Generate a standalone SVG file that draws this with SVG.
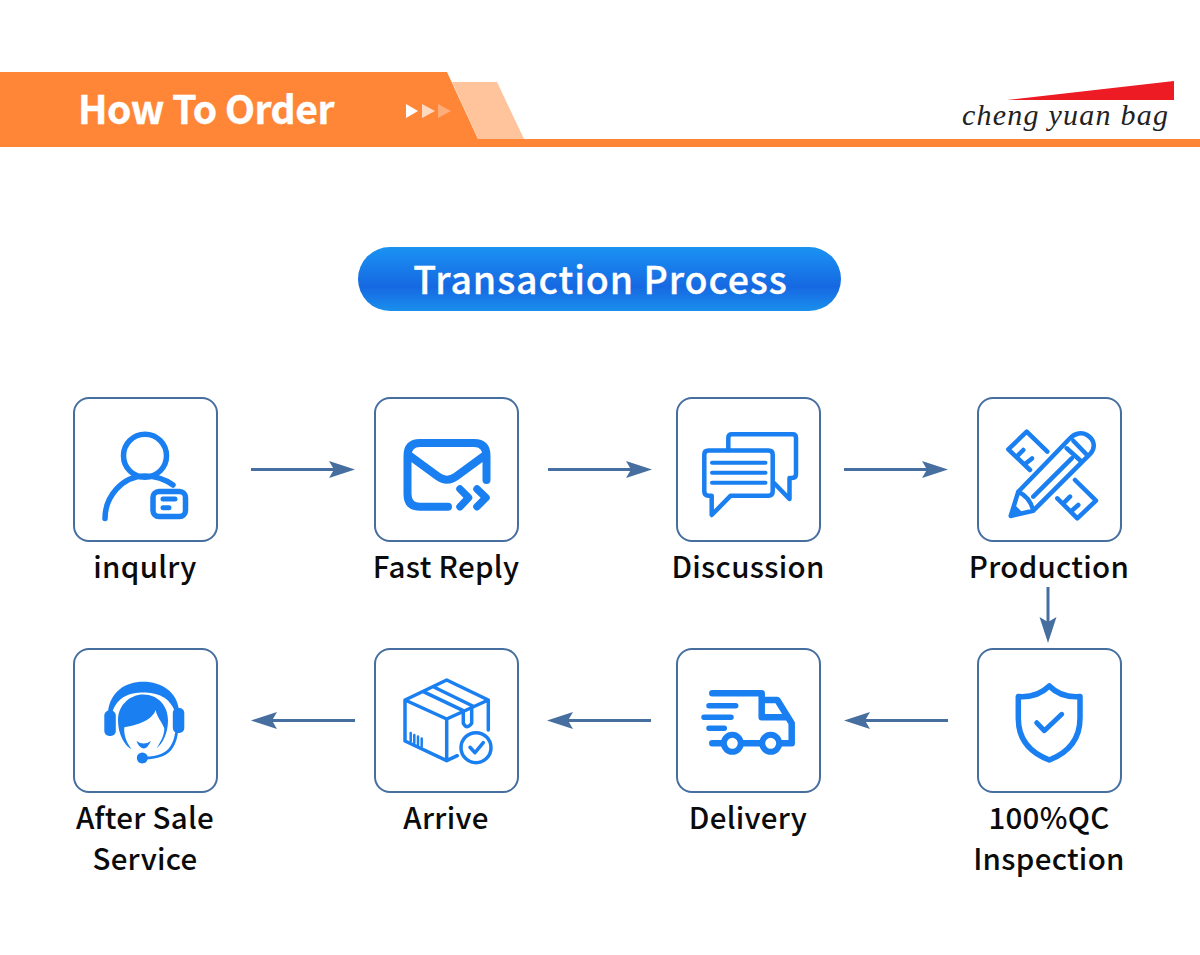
<svg xmlns="http://www.w3.org/2000/svg" width="1200" height="955" viewBox="0 0 1200 955">
<style>
.card{fill:#fff;stroke:#466FA0;stroke-width:2}
.ln{fill:none;stroke:#1A7FF0;stroke-linecap:round;stroke-linejoin:round}
.fl{fill:#1A7FF0}
.lab{font-family:"Noto Sans CJK SC","Noto Sans",sans-serif;font-weight:500;font-size:29.500px;letter-spacing:.3px;fill:#0b0b0b;text-anchor:middle}
.arw{stroke:#466FA0;stroke-width:3;fill:none;marker-end:url(#head)}
</style>
<defs>
<linearGradient id="pill" x1="0" y1="0" x2="0" y2="1">
<stop offset="0" stop-color="#1A93F2"/><stop offset=".62" stop-color="#1668E2"/><stop offset="1" stop-color="#1A8FEC"/>
</linearGradient>
<marker id="head" markerUnits="userSpaceOnUse" markerWidth="26" markerHeight="18" viewBox="0 0 26 18" refX="5" refY="9" orient="auto">
<path d="M0 .5L26 9L0 17.5L5 9Z" fill="#466FA0"/>
</marker>
<rect id="box" width="143" height="143" rx="15" class="card"/>
</defs>
<rect width="1200" height="955" fill="#fff"/>

<!-- header band -->
<g id="header">
<path d="M0 72H447L478 139H1200V147H0Z" fill="#FF8636"/>
<path d="M452 82H497L524 139H478Z" fill="#FFC49C"/>
<path d="M406 104L418 111L406 118Z" fill="#fff"/>
<path d="M422 104L435 111L422 118Z" fill="#FFD9BF"/>
<path d="M438 104L451 111L438 118Z" fill="#FFAD78"/>
<text x="78" y="123.500" font-family="'Noto Sans CJK SC','Noto Sans',sans-serif" font-weight="700" font-size="39" letter-spacing="-.5" fill="#fff" stroke="#fff" stroke-width=".4">How To Order</text>
</g>
<g id="logo">
<path d="M1007 100L1174 81V100Z" fill="#ED1C24"/>
<text x="962" y="125" font-family="'Liberation Serif',serif" font-style="italic" font-size="30" fill="#222" textLength="206" lengthAdjust="spacing">cheng yuan bag</text>
</g>

<g id="title">
<rect x="358" y="247" width="483" height="64" rx="32" fill="url(#pill)"/>
<text x="600.500" y="293.500" text-anchor="middle" font-family="'Noto Sans CJK SC','Noto Sans',sans-serif" font-weight="500" font-size="37.500" letter-spacing=".9" fill="#fff" stroke="#fff" stroke-width=".3">Transaction Process</text>
</g>

<g id="connectors">
<path class="arw" d="M251 469.500H334"/>
<path class="arw" d="M548 469.500H631"/>
<path class="arw" d="M844 469.500H927"/>
<path class="arw" d="M1048 587V622"/>
<path class="arw" d="M948 720.500H865"/>
<path class="arw" d="M651 720.500H568"/>
<path class="arw" d="M355 720.500H272"/>
</g>

<g id="inquiry">
<use href="#box" x="74" y="398"/>
<circle cx="145" cy="455.700" r="21.500" class="ln" stroke-width="5.500"/>
<path class="ln" stroke-width="5.500" stroke-linecap="butt" d="M105 518.500C105 497 122 476 145 476C156 476 166 480 173 485"/>
<rect x="153" y="491.500" width="32.500" height="25" rx="6" fill="#fff" class="ln" stroke-width="5.500"/>
<path class="ln" stroke-width="5" d="M163 499H175M163 507.700H169"/>
<text class="lab" x="145" y="578">inqulry</text>
</g>

<g id="fast-reply">
<use href="#box" x="375" y="398"/>
<path class="ln" stroke-width="8" d="M448 506.700H420Q407.500 506.700 407.500 494V456Q407.500 443 420 443H474Q486.500 443 486.500 456V480"/>
<path class="ln" stroke-width="8" d="M410 456L438 476.500Q447 483 456 476.500L484 456"/>
<path class="ln" stroke-width="7.500" d="M460 489L468.500 497.700L460 506.700M477 489L486 497.700L477 506.700"/>
<text class="lab" x="446" y="578">Fast Reply</text>
</g>

<g id="discussion">
<use href="#box" x="677" y="398"/>
<path class="ln" stroke-width="4.500" d="M728.300 450V438Q728.300 434.300 732 434.300H792.500Q796 434.300 796 438V474Q796 478 792 478H789.500V499L774.500 483.500"/>
<path class="ln" stroke-width="4.500" d="M708.500 450.500H768.500Q772.700 450.500 772.700 454.500V491.500Q772.700 495.700 768.500 495.700H730.700L711.700 515V495.700H708.500Q704.300 495.700 704.300 491.500V454.500Q704.300 450.500 708.500 450.500Z"/>
<path class="ln" stroke-width="4" d="M712 462.700H765.500M712 472.700H765.500M712 482.700H765.500"/>
<text class="lab" x="748" y="578">Discussion</text>
</g>

<g id="production">
<use href="#box" x="978" y="398"/>
<path class="ln" stroke-width="4.500" d="M1047.300 451.700L1026.700 431.700L1008.300 449.300L1030 470M1023.300 450L1017.700 455.700M1032 458.500L1025 464"/>
<path class="ln" stroke-width="4.500" d="M1075 480L1096 500.700L1077.300 518.300L1057.300 498.300M1070 496.700L1064.300 502.300M1078.300 505L1071.700 510.700"/>
<path class="ln" stroke-width="4.500" d="M1010.700 516L1018.300 491.700L1070 438.300C1075 433 1082 432 1087 435C1094 439 1096 447 1090.700 453.300L1033.300 510.700ZM1033.300 496.700L1071.700 458.300M1066.700 448.300L1081.700 461.700M1073.500 441L1088 456M1018.300 491.700Q1030 497 1033.300 510.700"/>
<path class="fl" d="M1010.700 516L1015 505L1022 512Z"/>
<text class="lab" x="1049" y="578">Production</text>
</g>

<g id="qc-inspection">
<use href="#box" x="978" y="649"/>
<path class="ln" stroke-width="5.500" d="M1049.300 686Q1037 698 1018.300 696.500V718Q1018 748 1049.300 760Q1080 748 1080 718V696.500Q1061 698 1049.300 686Z"/>
<path class="ln" stroke-width="5" d="M1036.700 722.700L1044.300 730.700L1061.700 714.300"/>
<text class="lab" x="1049" y="829">100%QC</text>
<text class="lab" x="1049" y="870">Inspection</text>
</g>

<g id="delivery">
<use href="#box" x="677" y="649"/>
<path class="ln" stroke-width="6.500" d="M712.300 693.300H761.700V717.300H786M761.700 700H777.300L791.700 723.300V743.300H781M742.700 743.300H760M712.300 743.300H721"/>
<path class="ln" stroke-width="5.500" d="M709 705.700H735.700M704 717.300H731M709 728.300H724.300"/>
<circle cx="732.300" cy="743.300" r="8.500" class="ln" stroke-width="6"/>
<circle cx="770.700" cy="743.300" r="8.500" class="ln" stroke-width="6"/>
<text class="lab" x="748" y="829">Delivery</text>
</g>

<g id="arrive">
<use href="#box" x="375" y="649"/>
<path class="ln" stroke-width="3.500" d="M405 700L446.700 680L488.300 700L446.700 719ZM405 700V741L446.700 760.700V719M446.700 760.700L457.300 755.700M488.300 700V730M423.300 691.700L463.300 710.700V723.300Q467 730 471.700 723.300V706.700M433.300 686.700L472.700 706"/>
<path class="ln" stroke-width="2.500" stroke-linecap="butt" d="M410.700 733V741M414.300 735V743M418 736.500V745M421.700 738.500V746.500"/>
<circle cx="476" cy="747.700" r="15" class="ln" stroke-width="3.500"/>
<path class="ln" stroke-width="3.500" d="M470 747.300L475 752.700L483.300 742.700"/>
<text class="lab" x="446" y="829">Arrive</text>
</g>

<g id="after-sale">
<use href="#box" x="74" y="649"/>
<path class="fl" d="M108 712C110 692 125 681.700 143.300 681.700C162 681.700 177 692 179 710L175 712C170 697 157 692.500 143.300 692.500C129 692.500 117 697 112 713Z"/>
<rect x="104.300" y="710.500" width="11.500" height="25.500" rx="5" class="fl"/>
<rect x="172.800" y="708" width="11.500" height="25" rx="5" class="fl"/>
<path class="fl" d="M118 720C118 705 130 694.500 143.300 694.500C158 694.500 168 706 168 720C168 733 163 743 156.700 748.300C161.700 740 164.300 735 164.300 728.300C161.700 721.700 156.700 716.700 155.700 710C152.300 720 138.300 725 124.300 727.300C123.300 736.700 128.300 745 131.700 749.300C125 746 118 735 118 720Z"/>
<path class="fl" d="M136.500 741Q143.500 746 151 741Q147 749 143.500 748.500Q139 748 136.500 741Z"/>
<circle cx="142.300" cy="758" r="5.500" class="fl"/>
<path class="ln" stroke-width="2.800" d="M144 758Q155 758 162 755Q174 750 176.500 733"/>
<text class="lab" x="145" y="829">After Sale</text>
<text class="lab" x="145" y="870">Service</text>
</g>
</svg>
